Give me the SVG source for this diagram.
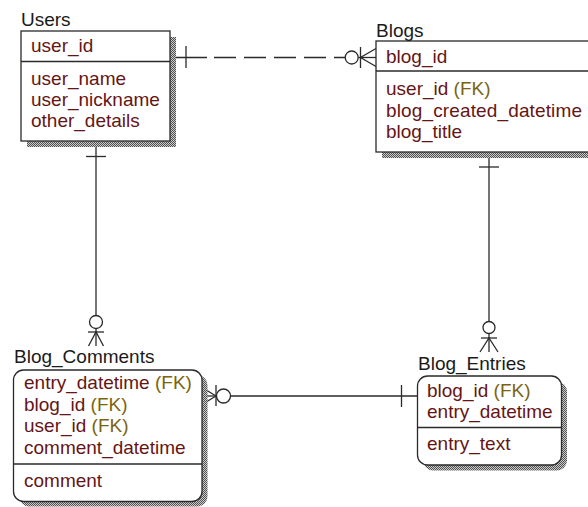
<svg xmlns="http://www.w3.org/2000/svg" width="588" height="507" viewBox="0 0 588 507">
<style>
  .title{font-family:"Liberation Sans",Arial,sans-serif;font-size:19px;fill:#1a1a1a}
  .attr{font-family:"Liberation Sans",Arial,sans-serif;font-size:19px;fill:#651515}
  .fk{fill:#7a6410}
  .box{fill:#ffffff;stroke:#2a2a2a;stroke-width:1.3}
  .div{stroke:#2a2a2a;stroke-width:1.3}
  .shadow{fill:url(#dither)}
  .conn line,.conn polyline{stroke:#2a2a2a;stroke-width:1.3;fill:none}
  .conn circle{stroke:#2a2a2a;stroke-width:1.3;fill:#ffffff}
</style>
<defs>
  <pattern id="dither" width="2" height="2" patternUnits="userSpaceOnUse">
    <rect width="2" height="2" fill="#cccccc"/>
    <rect width="1" height="1" fill="#505050"/>
    <rect x="1" y="1" width="1" height="1" fill="#505050"/>
  </pattern>
</defs>
<rect width="588" height="507" fill="#ffffff"/>

<g id="connectors" class="conn">
  <!-- Users - Blogs (dashed) -->
  <line x1="170" y1="57.5" x2="207" y2="57.5"/>
  <line x1="214" y1="57.5" x2="345.2" y2="57.5" stroke-dasharray="22 8"/>
  <line x1="186" y1="46" x2="186" y2="68"/>
  <line x1="358.2" y1="57.5" x2="376" y2="57.5"/>
  <circle cx="351.7" cy="57.5" r="6.5"/>
  <line x1="360.5" y1="47" x2="360.5" y2="68"/>
  <polyline points="376,48.5 360.5,57.5 376,66.5"/>
  <!-- Users - Blog_Comments -->
  <line x1="96" y1="141" x2="96" y2="315.5"/>
  <line x1="86" y1="156.5" x2="106" y2="156.5"/>
  <circle cx="96" cy="322" r="6.5"/>
  <line x1="96" y1="328.5" x2="96" y2="346"/>
  <line x1="88" y1="332" x2="104" y2="332"/>
  <polyline points="88.5,346 96,332 103.5,346"/>
  <!-- Blogs - Blog_Entries -->
  <line x1="489" y1="152" x2="489" y2="321.5"/>
  <line x1="479" y1="167" x2="499" y2="167"/>
  <circle cx="489" cy="327.5" r="6"/>
  <line x1="489" y1="333.5" x2="489" y2="352"/>
  <line x1="481" y1="338" x2="497" y2="338"/>
  <polyline points="480,352 489,338 498,352"/>
  <!-- Blog_Comments - Blog_Entries -->
  <line x1="230.5" y1="396" x2="417.5" y2="396"/>
  <line x1="401.5" y1="385" x2="401.5" y2="407"/>
  <circle cx="223.5" cy="396" r="7"/>
  <line x1="216" y1="385" x2="216" y2="406"/>
  <polyline points="202,387.5 216,396 202,404.5"/>
  <line x1="202" y1="396" x2="216.5" y2="396"/>
</g>

<g id="users">
  <rect class="shadow" x="27" y="37" width="149" height="110"/>
  <rect class="box" x="21" y="31" width="149" height="110"/>
  <line class="div" x1="21" y1="61.5" x2="170" y2="61.5"/>
  <text class="title" x="21" y="26">Users</text>
  <text class="attr" x="31" y="52">user_id</text>
  <text class="attr" x="31" y="84.5">user_name</text>
  <text class="attr" x="31" y="105.5">user_nickname</text>
  <text class="attr" x="31" y="126.5">other_details</text>
</g>

<g id="blogs">
  <rect class="shadow" x="382" y="47" width="230" height="111"/>
  <rect class="box" x="376" y="41" width="230" height="111"/>
  <line class="div" x1="376" y1="71" x2="606" y2="71"/>
  <text class="title" x="376" y="37">Blogs</text>
  <text class="attr" x="386" y="63">blog_id</text>
  <text class="attr" x="386" y="95">user_id <tspan class="fk">(FK)</tspan></text>
  <text class="attr" x="386" y="116.5" textLength="196">blog_created_datetime</text>
  <text class="attr" x="386" y="137.5">blog_title</text>
</g>

<g id="blog_comments">
  <rect class="shadow" x="19" y="375" width="188.5" height="131.5" rx="10"/>
  <rect class="box" x="13.5" y="370" width="188.5" height="131.5" rx="10"/>
  <line class="div" x1="13.5" y1="464" x2="202" y2="464"/>
  <text class="title" x="14" y="363">Blog_Comments</text>
  <text class="attr" x="24" y="389">entry_datetime <tspan class="fk">(FK)</tspan></text>
  <text class="attr" x="24" y="410.5">blog_id <tspan class="fk">(FK)</tspan></text>
  <text class="attr" x="24" y="432">user_id <tspan class="fk">(FK)</tspan></text>
  <text class="attr" x="24" y="454">comment_datetime</text>
  <text class="attr" x="24" y="487">comment</text>
</g>

<g id="blog_entries">
  <rect class="shadow" x="423" y="381.5" width="144" height="89" rx="10"/>
  <rect class="box" x="417.5" y="376" width="144" height="89" rx="10"/>
  <line class="div" x1="417.5" y1="427.5" x2="561.5" y2="427.5"/>
  <text class="title" x="418" y="370">Blog_Entries</text>
  <text class="attr" x="427" y="397">blog_id <tspan class="fk">(FK)</tspan></text>
  <text class="attr" x="427" y="418">entry_datetime</text>
  <text class="attr" x="427" y="450">entry_text</text>
</g>
</svg>
